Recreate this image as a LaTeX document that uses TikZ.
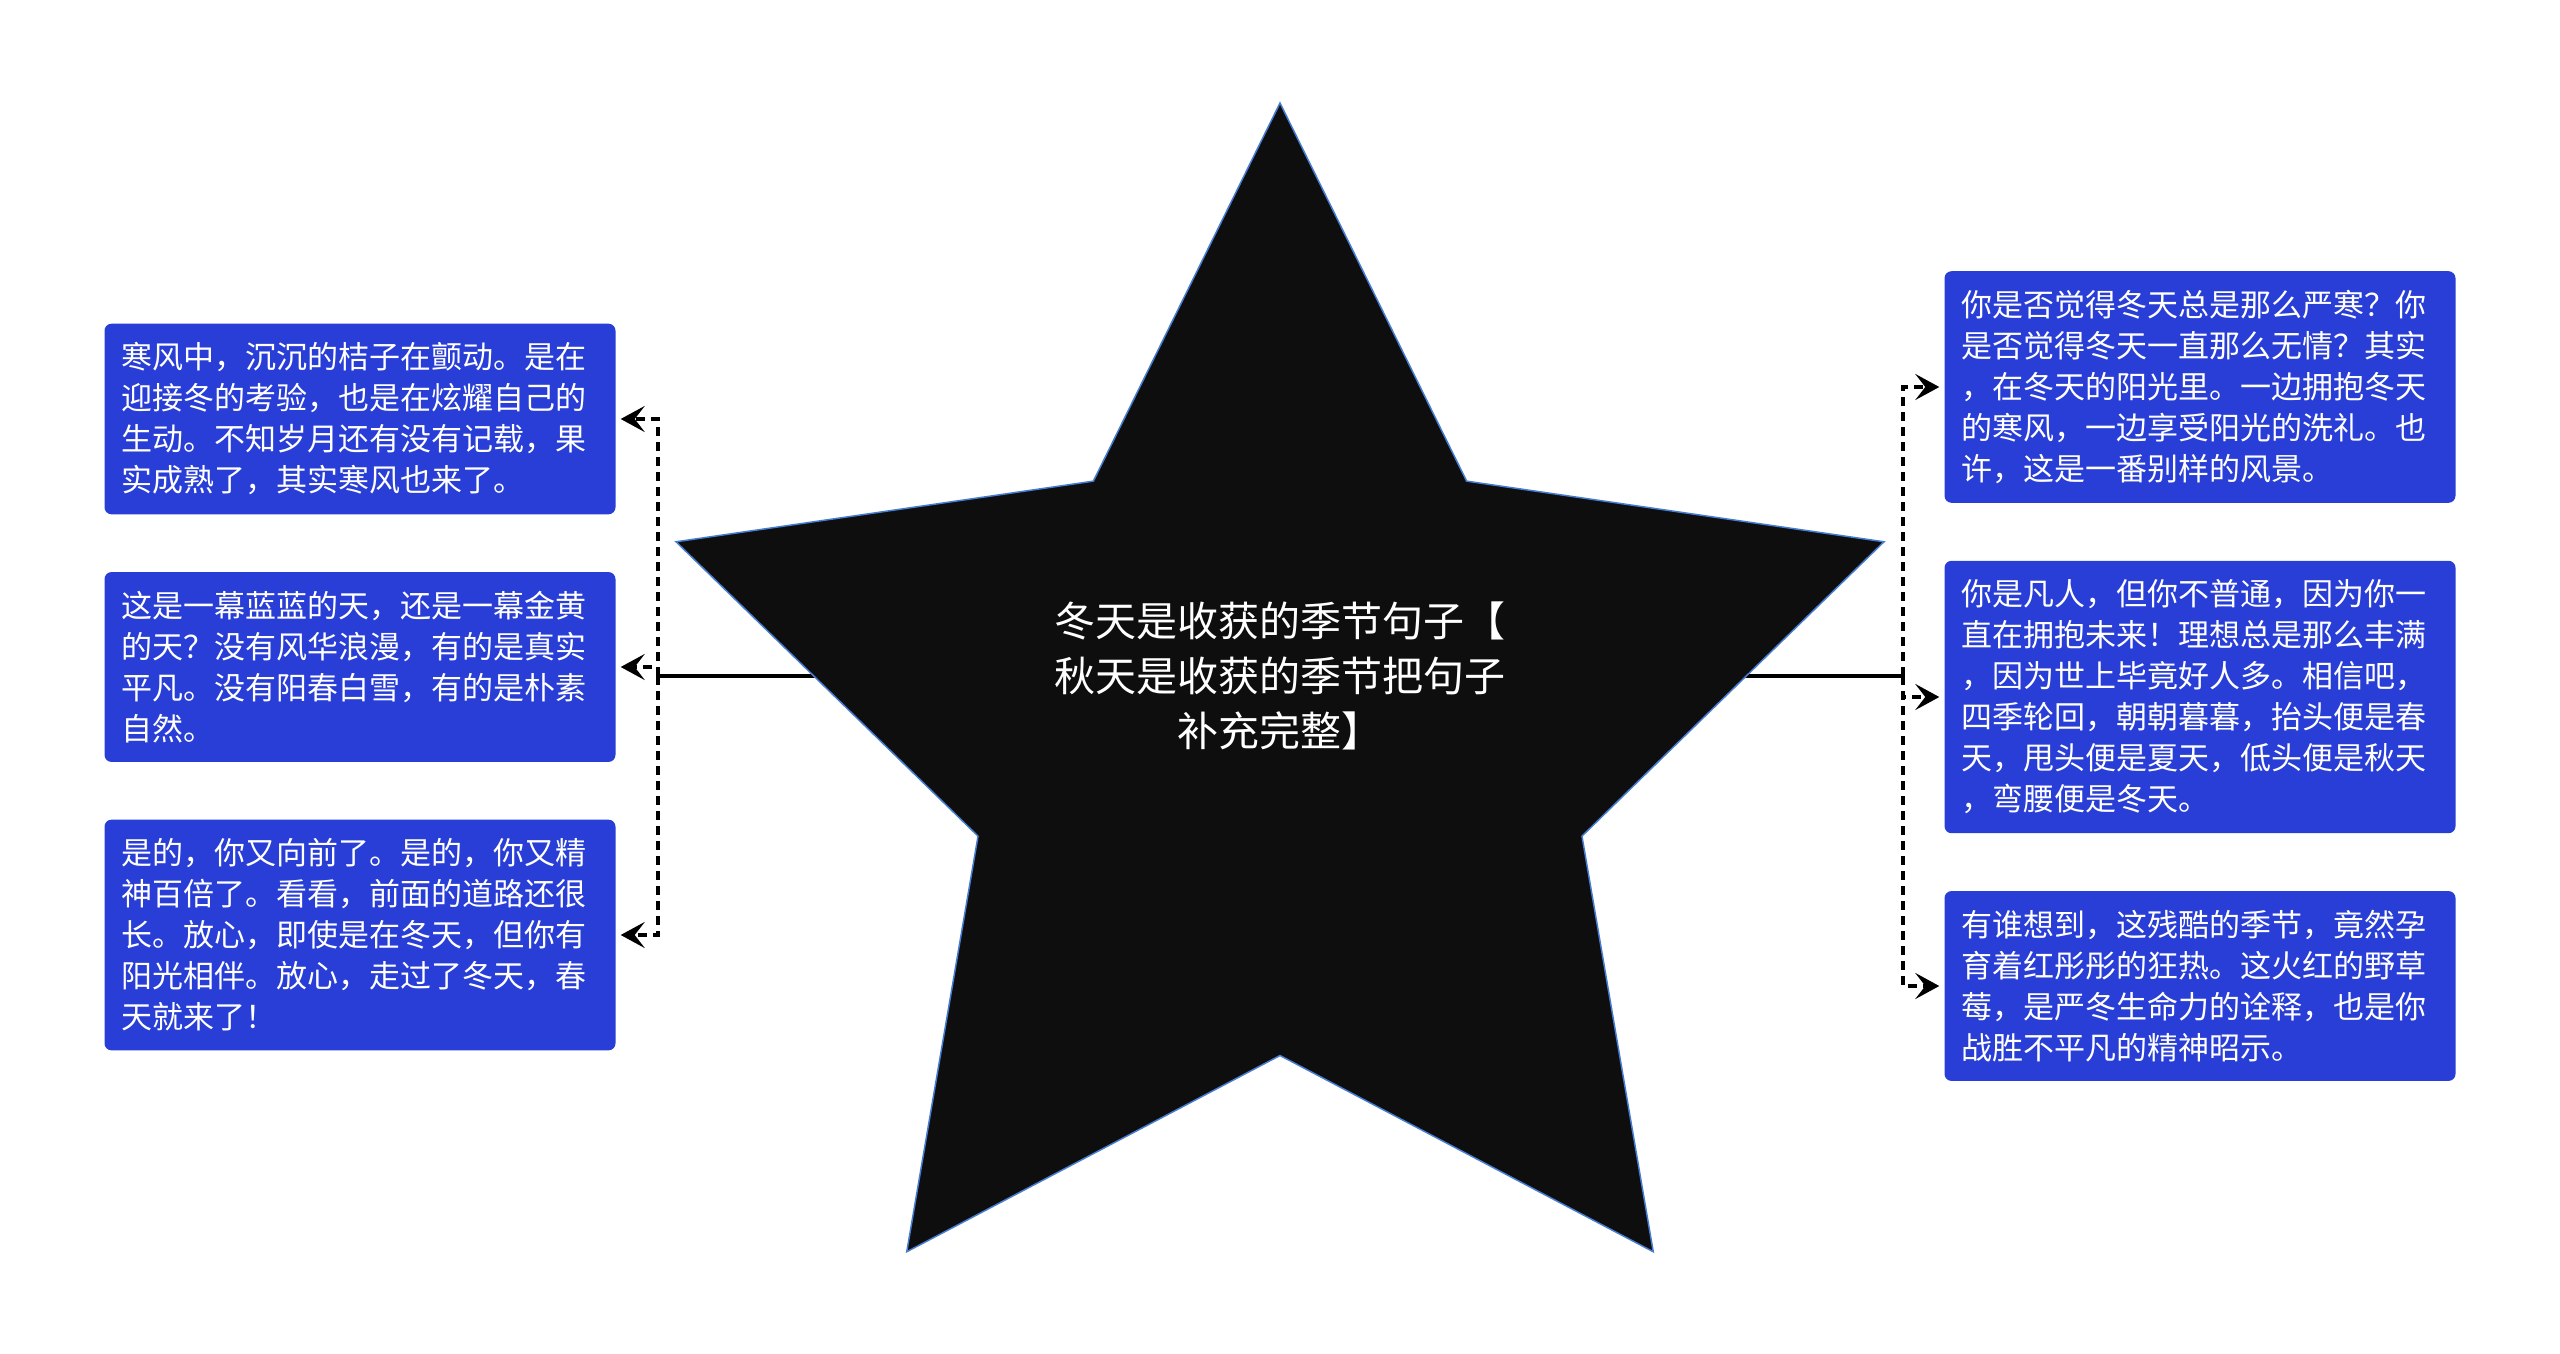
\documentclass[tikz,border=0pt]{standalone}
\usepackage{fontspec}
\usepackage{xcolor}
\usetikzlibrary{arrows.meta,shapes.geometric,backgrounds}
\newfontfamily\cjk{Noto Sans CJK SC}

\begin{document}
\begin{tikzpicture}[x=1pt, y=-1pt,
    leaf/.style={fill=leafblue, rounded corners=7pt, text=white, align=left,
        text width=477pt, inner xsep=17pt, inner ysep=19pt,
        font=\cjk\fontsize{31}{41}\selectfont},
    trunk/.style={line width=4pt, black},
    branch/.style={line width=4.5pt, black, dash pattern=on 9pt off 6pt,
        -{Stealth[length=24pt, width=26pt, inset=10pt]}, shorten >=5pt}]
    % Define the colours of the star and the boxes
    \definecolor{leafblue}{RGB}{40,62,214}
    \definecolor{starblack}{RGB}{14,14,14}
    \definecolor{starblue}{RGB}{70,125,210}

    \useasboundingbox (0,0) rectangle (2560,1354);

    % Draw the big star in the middle
    \node[star, star points=5, star point ratio=2, minimum size=1270pt, inner sep=0pt,
        fill=starblack, draw=starblue, line width=1.5pt] (star) at (1280,738) {};

    % Title inside the star
    \node[text=white, align=center, font=\cjk\fontsize{41}{55}\selectfont] (title) at (1280,676)
        {冬天是收获的季节句子【\\秋天是收获的季节把句子\\补充完整】};

    % Boxes on the left
    \node[leaf] (lb1) at (360,419) {寒风中，沉沉的桔子在颤动。是在\\迎接冬的考验，也是在炫耀自己的\\生动。不知岁月还有没有记载，果\\实成熟了，其实寒风也来了。};
    \node[leaf] (lb2) at (360,667) {这是一幕蓝蓝的天，还是一幕金黄\\的天？没有风华浪漫，有的是真实\\平凡。没有阳春白雪，有的是朴素\\自然。};
    \node[leaf] (lb3) at (360,935) {是的，你又向前了。是的，你又精\\神百倍了。看看，前面的道路还很\\长。放心，即使是在冬天，但你有\\阳光相伴。放心，走过了冬天，春\\天就来了！};

    % Boxes on the right
    \node[leaf] (rb1) at (2200,387) {你是否觉得冬天总是那么严寒？你\\是否觉得冬天一直那么无情？其实\\，在冬天的阳光里。一边拥抱冬天\\的寒风，一边享受阳光的洗礼。也\\许，这是一番别样的风景。};
    \node[leaf] (rb2) at (2200,697) {你是凡人，但你不普通，因为你一\\直在拥抱未来！理想总是那么丰满\\，因为世上毕竟好人多。相信吧，\\四季轮回，朝朝暮暮，抬头便是春\\天，甩头便是夏天，低头便是秋天\\，弯腰便是冬天。};
    \node[leaf] (rb3) at (2200,986) {有谁想到，这残酷的季节，竟然孕\\育着红彤彤的狂热。这火红的野草\\莓，是严冬生命力的诠释，也是你\\战胜不平凡的精神昭示。};

    % Junction points of the two sides
    \coordinate (jl) at (658,676);
    \coordinate (jr) at (1903,676);

    % Solid lines from the star, under it
    \begin{scope}[on background layer]
        \draw[trunk] (title) -- (jl);
        \draw[trunk] (title) -- (jr);
    \end{scope}

    % Dotted arrows to the boxes
    \draw[branch] (jl) |- (lb1);
    \draw[branch] (jl) |- (lb2);
    \draw[branch] (jl) |- (lb3);
    \draw[branch] (jr) |- (rb1);
    \draw[branch] (jr) |- (rb2);
    \draw[branch] (jr) |- (rb3);

\end{tikzpicture}
\end{document}
